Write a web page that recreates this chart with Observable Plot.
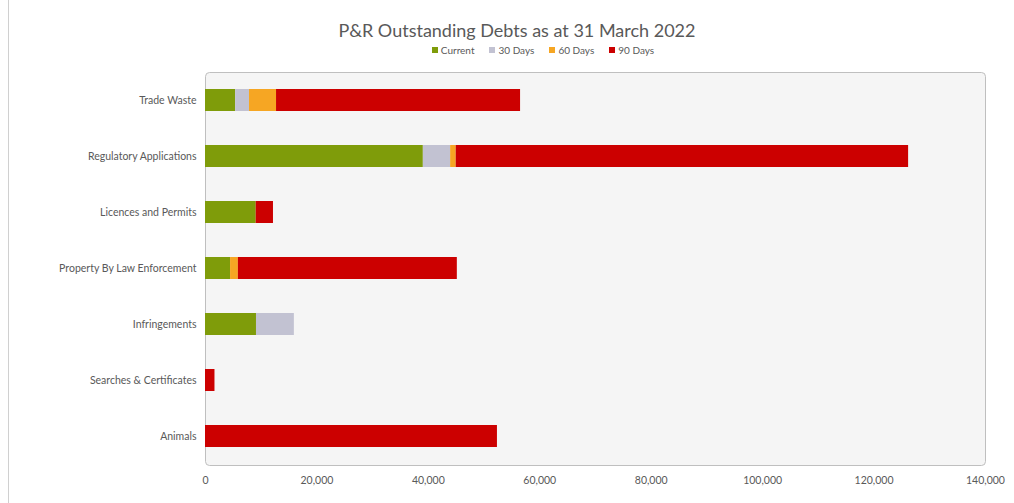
<!DOCTYPE html>
<html>
<head>
<meta charset="utf-8">
<script src="https://cdn.jsdelivr.net/npm/d3@7"></script>
<script src="https://cdn.jsdelivr.net/npm/@observablehq/plot@0.6"></script>
<style>
  html, body { margin: 0; padding: 0; background: #fff; overflow: hidden; }
  #wrap { position: relative; width: 1014px; height: 503px; font-family: Lato, "Liberation Sans", sans-serif; }
  #border { position: absolute; left: 8px; top: 0; width: 1px; height: 503px; background: #d0d0d0; }
  #title { position: absolute; top: 19px; left: 10px; width: 1014px; text-align: center; font-size: 18px; color: #595959; }
  #legend { position: absolute; top: 44px; left: 36px; width: 1014px; display: flex; justify-content: center; gap: 15px; font-size: 10px; color: #595959; }
  #legend span.item { display: inline-flex; align-items: center; gap: 3px; }
  #legend span.sw { display: inline-block; width: 6px; height: 6px; }
  #chart { position: absolute; top: 0; left: 0; }
</style>
</head>
<body>
<div id="wrap">
  <div id="chart"></div>
  <div id="border"></div>
  <div id="title"></div>
  <div id="legend"></div>
</div>
<script>
const titleText = "P&R Outstanding Debts as at 31 March 2022";
const categories = ["Trade Waste", "Regulatory Applications", "Licences and Permits", "Property By Law Enforcement", "Infringements", "Searches & Certificates", "Animals"];
const seriesNames = ["Current", "30 Days", "60 Days", "90 Days"];
const seriesColors = ["#7f9c0a", "#c2c2d2", "#f6a623", "#cc0000"];
const current = [5400, 39100, 9100, 4500, 9150, 0, 0];
const days30  = [2500, 4900, 0, 0, 6800, 0, 0];
const days60  = [4850, 1000, 0, 1400, 0, 0, 0];
const days90  = [43800, 81200, 3100, 39300, 0, 1700, 52400];
const xTicks = [0, 20000, 40000, 60000, 80000, 100000, 120000, 140000];

const seriesValues = [current, days30, days60, days90];
const rows = [];
seriesNames.forEach((s, si) => {
  categories.forEach((c, ci) => {
    rows.push({category: c, series: s, value: seriesValues[si][ci]});
  });
});

document.getElementById("title").textContent = titleText;
const leg = document.getElementById("legend");
seriesNames.forEach((s, i) => {
  const it = document.createElement("span");
  it.className = "item";
  const sw = document.createElement("span");
  sw.className = "sw";
  sw.style.background = seriesColors[i];
  it.appendChild(sw);
  const t = document.createElement("span");
  t.textContent = s;
  it.appendChild(t);
  leg.appendChild(it);
});

const chart = Plot.plot({
  width: 1014,
  height: 503,
  marginLeft: 205,
  marginRight: 29,
  marginTop: 72,
  marginBottom: 38,
  style: {fontFamily: "Lato, 'Liberation Sans', sans-serif", fontSize: "10.5px", color: "#595959", background: "transparent"},
  x: {domain: [0, 140000], ticks: xTicks, tickFormat: d3.format(","), label: null},
  y: {domain: categories, paddingInner: 0.6, paddingOuter: 0.3, label: null},
  color: {domain: seriesNames, range: seriesColors},
  marks: [
    Plot.frame({fill: "#f5f5f5", stroke: "#bfbfbf", rx: 4}),
    Plot.barX(rows, Plot.stackX({y: "category", x: "value", fill: "series", order: seriesNames})),
    Plot.axisX({ticks: xTicks, tickFormat: d3.format(","), tickSize: 0, tickPadding: 11, fill: "#595959", label: null}),
    Plot.axisY({tickSize: 0, tickPadding: 9, fill: "#595959", label: null})
  ]
});
document.getElementById("chart").appendChild(chart);
</script>
</body>
</html>
